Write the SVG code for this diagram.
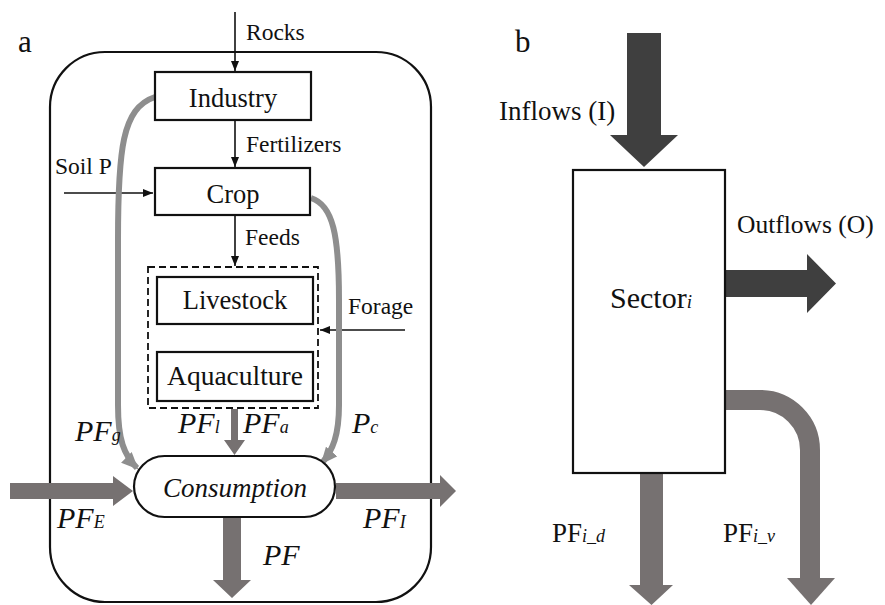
<svg xmlns="http://www.w3.org/2000/svg" width="885" height="605" viewBox="0 0 885 605" font-family="'Liberation Serif', Tinos, 'DejaVu Serif', 'Noto Serif', 'Times New Roman', serif">
<style>
text{font-family:'Liberation Serif',Tinos,'DejaVu Serif','Noto Serif','Times New Roman',serif;fill:#111}
.box{fill:#fff;stroke:#111;stroke-width:2.2}
.thin{fill:none;stroke:#111;stroke-width:1.6}
.curve{fill:none;stroke:#8e8e8e;stroke-width:6}
.g{fill:#767171}
.d{fill:#3f3f3f}
.lbl{font-size:23.5px}
.big{font-size:26.5px}
.it{font-style:italic}
.pf{font-size:30px;font-style:italic}
.sub{font-size:18px;font-style:italic}
.bt{font-size:27px}
</style>
<defs>
<marker id="blk" markerUnits="userSpaceOnUse" markerWidth="10" markerHeight="8" refX="10" refY="4" orient="auto"><path d="M0,0 L10,4 L0,8 z" fill="#111"/></marker>
<marker id="gry" markerUnits="userSpaceOnUse" markerWidth="17" markerHeight="15" refX="15" refY="7.5" orient="auto"><path d="M0,0 L17,7.5 L0,15 z" fill="#8e8e8e"/></marker>
</defs>
<rect width="885" height="605" fill="#fff"/>
<text x="18" y="52" style="font-size:31px">a</text>
<text x="515" y="52" style="font-size:31px">b</text>
<g id="system"><rect x="50" y="52" width="381" height="550" rx="55" fill="none" stroke="#111" stroke-width="2.2"/></g>
<g id="connectors">
<line class="thin" x1="235" y1="12" x2="235" y2="71" marker-end="url(#blk)"/>
<line class="thin" x1="235" y1="121" x2="235" y2="167" marker-end="url(#blk)"/>
<line class="thin" x1="64" y1="193" x2="153" y2="193" marker-end="url(#blk)"/>
<line class="thin" x1="235" y1="216" x2="235" y2="266" marker-end="url(#blk)"/>
<line class="thin" x1="405" y1="330" x2="320" y2="330" marker-end="url(#blk)"/>
<path class="curve" d="M155,97 C122,108 118,150 118,240 L118,405 C118,440 124,455 137,468" marker-end="url(#gry)"/>
<path class="curve" d="M311,198 C333,205 339,235 339,300 L339,405 C339,435 333,450 322,463" marker-end="url(#gry)"/>
<polygon class="g" points="231,409 238,409 238,440 245,440 234.5,455 224,440 231,440"/>
<polygon class="g" points="10,483 113,483 113,476 133,491 113,506 113,499 10,499"/>
<polygon class="g" points="336,483 440,483 440,475 456,491 440,507 440,499 336,499"/>
<polygon class="g" points="223,518 241,518 241,580 251,580 232,598 213,580 223,580"/>
<polygon class="d" points="627,33 661,33 661,135 678,135 644,167 610,135 627,135"/>
<polygon class="d" points="726,270 807,270 807,254 836,283.5 807,313 807,297 726,297"/>
<polygon class="g" points="640,474 663,474 663,585 673,585 651.5,605 629,585 640,585"/>
<path d="M725,400 H760 A50,50 0 0 1 810,450 V580" fill="none" stroke="#767171" stroke-width="20"/>
<polygon class="g" points="787,578 835,578 811,605"/>
</g>
<g id="industry"><rect class="box" x="155" y="72" width="156" height="48"/><text class="big" x="233" y="107" text-anchor="middle">Industry</text></g>
<g id="crop"><rect class="box" x="155" y="168" width="155" height="47"/><text class="big" x="233" y="203" text-anchor="middle">Crop</text></g>
<g id="animal-group"><rect x="148" y="267" width="170" height="141" fill="none" stroke="#111" stroke-width="1.8" stroke-dasharray="7,4"/></g>
<g id="livestock"><rect class="box" x="157" y="277" width="156" height="47"/><text class="big" x="235" y="309" text-anchor="middle">Livestock</text></g>
<g id="aquaculture"><rect class="box" x="157" y="352" width="156" height="49"/><text class="big" x="235" y="385" text-anchor="middle" style="font-size:27.5px">Aquaculture</text></g>
<g id="consumption"><rect class="box" x="134" y="456" width="201" height="61" rx="30.5"/><text x="235" y="497" text-anchor="middle" class="it" style="font-size:27px">Consumption</text></g>
<g id="sector"><rect class="box" x="573" y="170" width="152" height="303"/><text x="610" y="308" class="bt" style="font-size:30px">Sector<tspan class="sub" style="font-size:19px">i</tspan></text></g>
<g id="labels">
<text class="lbl" x="246" y="40">Rocks</text>
<text class="lbl" x="246" y="152">Fertilizers</text>
<text class="lbl" x="55" y="174">Soil P</text>
<text class="lbl" x="245" y="245">Feeds</text>
<text class="lbl" x="348" y="314">Forage</text>
<text class="pf" x="75" y="441">PF<tspan class="sub">g</tspan></text>
<text class="pf" x="178" y="433">PF<tspan class="sub">l</tspan></text>
<text class="pf" x="243" y="433">PF<tspan class="sub">a</tspan></text>
<text class="pf" x="352" y="433">P<tspan class="sub">c</tspan></text>
<text class="pf" x="57" y="528">PF<tspan class="sub">E</tspan></text>
<text class="pf" x="363" y="528">PF<tspan class="sub">I</tspan></text>
<text class="pf" x="263" y="565">PF</text>
<text class="bt" x="499" y="120">Inflows (I)</text>
<text class="bt" x="737" y="233" style="font-size:25.5px">Outflows (O)</text>
<text class="bt" x="552" y="542">PF<tspan class="sub">i_d</tspan></text>
<text class="bt" x="723" y="542">PF<tspan class="sub">i_v</tspan></text>
</g>
</svg>
